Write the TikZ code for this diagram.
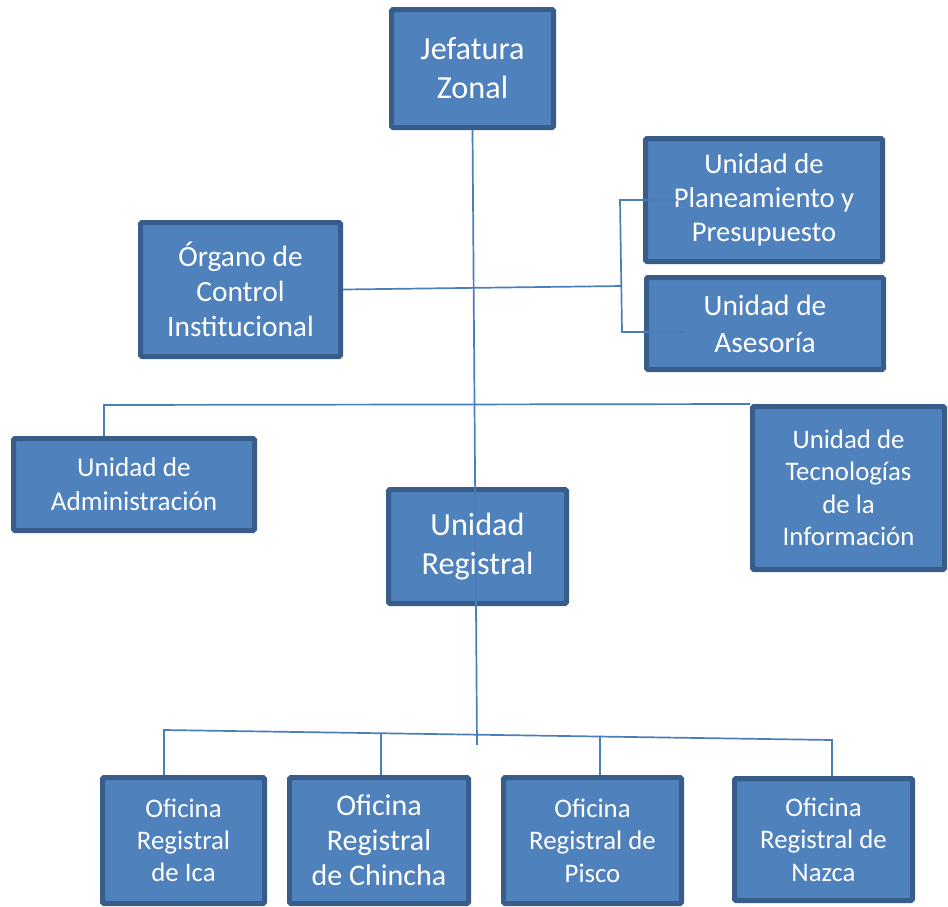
\documentclass[tikz,border=0pt]{standalone}
\usepackage{fontspec}
\setmainfont{Carlito}
\definecolor{boxfill}{HTML}{4F81BD}
\definecolor{boxborder}{HTML}{385D8A}
\definecolor{linkcol}{HTML}{4A7EBB}
\tikzset{
  orgbox/.style={draw=boxborder, line width=5pt, fill=boxfill, rounded corners=1.5pt,
    text=white, align=center, inner sep=0pt},
  link/.style={draw=linkcol, line width=1.7pt},
}
\newcommand{\fs}[2]{\fontsize{#1}{#2}\selectfont}
\begin{document}
\begin{tikzpicture}[x=1pt,y=-1pt]
\useasboundingbox (0,0) rectangle (948,906);
% boxes
\node[orgbox, minimum width=162, minimum height=118, font=\fs{32.2}{39}] (jz) at (472.5,68.5) {Jefatura\\Zonal};
\node[orgbox, minimum width=237, minimum height=123, font=\fs{28.6}{34}] (plan) at (764,200) {Unidad de\\Planeamiento y\\Presupuesto};
\node[orgbox, minimum width=237, minimum height=92, font=\fs{29.4}{37}] (ases) at (765,323.5) {Unidad de\\Asesoría};
\node[orgbox, minimum width=200, minimum height=134, font=\fs{29.4}{35}] (org) at (240.5,289.5) {Órgano de\\Control\\Institucional};
\node[orgbox, minimum width=241, minimum height=92, font=\fs{27.2}{34}] (adm) at (134,484.5) {Unidad de\\Administración};
\node[orgbox, minimum width=192, minimum height=163, font=\fs{26.8}{32.5}] (tec) at (848.5,488) {Unidad de\\Tecnologías\\de la\\Información};
\node[orgbox, minimum width=178, minimum height=114, font=\fs{32.2}{39}] (ur) at (477.5,546.5) {Unidad\\Registral};
\node[orgbox, minimum width=162, minimum height=126, font=\fs{26.8}{32}] (ica) at (183.5,840.5) {Oficina\\Registral\\de Ica};
\node[orgbox, minimum width=179, minimum height=126, font=\fs{30}{35}] (chin) at (379,840.5) {Oficina\\Registral\\de Chincha};
\node[orgbox, minimum width=178, minimum height=126, font=\fs{26.8}{32.5}] (pisco) at (592.5,840.5) {Oficina\\Registral de\\Pisco};
\node[orgbox, minimum width=178, minimum height=122, font=\fs{26.8}{32.5}] (nazca) at (823.5,839.5) {Oficina\\Registral de\\Nazca};
% connector coordinates
\coordinate (mend) at (477,745);
\coordinate (bk) at (622,286);
\coordinate (bt) at (620,200);
\coordinate (bb) at (622,332);
\coordinate (pt) at (677,200);
\coordinate (pb) at (685,332);
\coordinate (h1) at (104,405);
\coordinate (bl) at (164,730);
\coordinate (br) at (832,740);
\coordinate (c2) at (381,733.5);
\coordinate (c3) at (600,737);
% connectors
\draw[link] (jz.south) -- (mend);
\draw[link] (org.east) -- (bk);
\draw[link] (pt) -- (bt) -- (bb) -- (pb);
\draw[link] (adm.north -| h1) -- (h1) -- (tec.north west);
\draw[link] (ica.north -| bl) -- (bl) -- (br) -- (nazca.north -| br);
\draw[link] (c2) -- (c2 |- chin.north);
\draw[link] (c3) -- (c3 |- pisco.north);
\end{tikzpicture}
\end{document}
